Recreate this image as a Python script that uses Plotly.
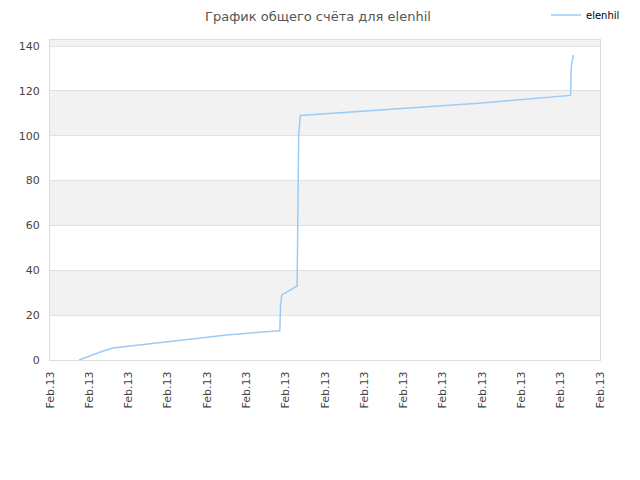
import plotly.graph_objects as go

# Data (x in tick-index units, y in score)
x_vals = [0.74, 1.0, 1.3, 1.6, 2.5, 3.5, 4.5, 5.5, 5.85, 5.87, 5.9, 6.29, 6.31, 6.33, 6.37, 7.0, 9.0, 11.0, 13.25, 13.27, 13.32]
y_vals = [0.0, 1.8, 3.7, 5.3, 7.2, 9.3, 11.2, 12.6, 13.0, 25.0, 29.0, 33.0, 73.0, 100.0, 109.0, 109.8, 112.0, 114.6, 118.0, 131.0, 136.0]
tick_vals = list(range(15))
tick_text = ["Feb.13"] * 15
series_name = "elenhil"
title_text = "График общего счёта для elenhil"
y_ticks = [0, 20, 40, 60, 80, 100, 120, 140]

W, H = 632, 472  # page body has an 8px margin
ML, MR, MT, MB = 42, 40, 32, 120
PH = H - MT - MB

fig = go.Figure()
fig.add_trace(go.Scatter(x=x_vals, y=y_vals, mode="lines", name=series_name,
                         line=dict(color="#9ccbf5", width=1.5), showlegend=True))

shapes = []
for lo in [20, 60, 100, 140]:
    shapes.append(dict(type="rect", xref="paper", yref="y", x0=0, x1=1, y0=lo, y1=lo + 20,
                       fillcolor="#f2f2f2", line=dict(width=0), layer="below"))

fig.add_annotation(text=title_text, xref="paper", yref="paper",
                   x=(310 - ML) / (W - ML - MR), y=1 + (MT - 8) / PH,
                   xanchor="center", yanchor="middle", showarrow=False,
                   font=dict(family="DejaVu Sans", size=13, color="#555555"))

fig.update_layout(
    width=W, height=H,
    margin=dict(l=ML, r=MR, t=MT, b=MB, autoexpand=False),
    paper_bgcolor="white", plot_bgcolor="white",
    font=dict(family="DejaVu Sans", size=11, color="#444444"),
    legend=dict(x=617 / W, xref="container", y=1 - 7 / H, yref="container",
                xanchor="right", yanchor="middle", bgcolor="rgba(0,0,0,0)",
                font=dict(size=10, color="#000000"), itemwidth=30),
    shapes=shapes,
    xaxis=dict(range=[0, 14], tickvals=tick_vals, ticktext=tick_text, tickangle=-90,
               showgrid=False, zeroline=False, showline=True, linecolor="#dddddd", mirror=True,
               ticks="outside", ticklen=6, tickcolor="rgba(0,0,0,0)", fixedrange=True,
               automargin=False),
    yaxis=dict(range=[0, 142.7], tickvals=y_ticks, showgrid=True, gridcolor="#e2e2e2",
               zeroline=False, showline=True, linecolor="#dddddd", mirror=True,
               ticks="outside", ticklen=7, tickcolor="rgba(0,0,0,0)",
               fixedrange=True, automargin=False),
)
fig.write_html("out.html")
